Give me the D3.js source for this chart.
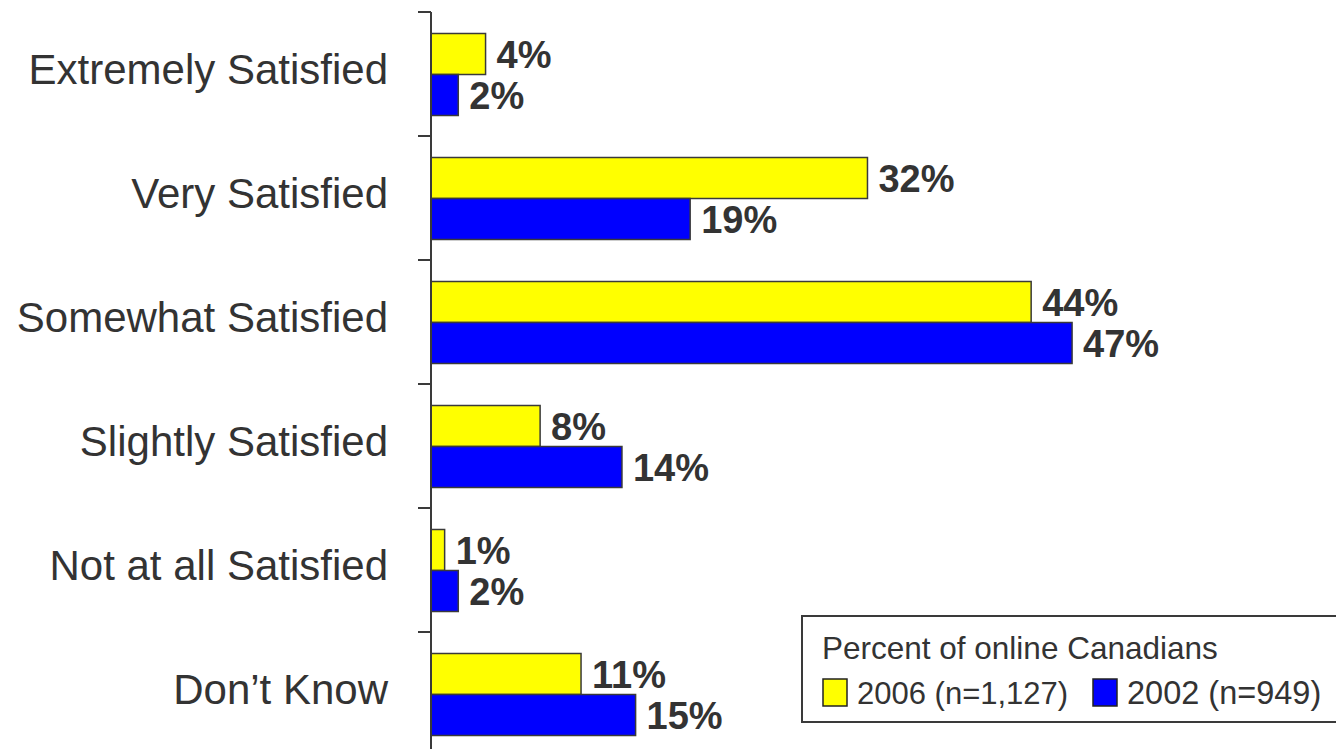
<!DOCTYPE html>
<html>
<head>
<meta charset="utf-8">
<script src="https://cdn.jsdelivr.net/npm/d3@7"></script>
<style>
  html, body { margin: 0; padding: 0; background: #ffffff; }
  svg { display: block; }
  text { font-family: Arial, "Liberation Sans", Helvetica, sans-serif; fill: #333333; }
</style>
</head>
<body>
<svg id="chart" width="1336" height="749"></svg>
<script>
const categories = ["Extremely Satisfied", "Very Satisfied", "Somewhat Satisfied", "Slightly Satisfied", "Not at all Satisfied", "Don\u2019t Know"];
const seriesNames = ["2006 (n=1,127)", "2002 (n=949)"];
const values2006 = [4, 32, 44, 8, 1, 11];
const values2002 = [2, 19, 47, 14, 2, 15];
const seriesColors = ["#FFFF00", "#0000FF"];
const legendTitle = "Percent of online Canadians";

const svg = d3.select("#chart");
const axisX = 431;

const x = d3.scaleLinear().domain([0, 47]).range([axisX, axisX + 47 * 13.64]);
const y = d3.scaleBand().domain(categories).range([12, 12 + 124 * 6]).padding(0);
const ySeries = d3.scaleBand().domain(seriesNames).range([21.5, 103.5]).padding(0);

const data = categories.map((c, i) => ({ cat: c, vals: [values2006[i], values2002[i]] }));

// bars
const groups = svg.selectAll("g.cat").data(data).enter().append("g").attr("class", "cat")
  .attr("transform", d => `translate(0,${y(d.cat)})`);

groups.selectAll("rect").data(d => d.vals.map((v, j) => ({ v, s: seriesNames[j], j })))
  .enter().append("rect")
  .attr("x", x(0))
  .attr("y", d => ySeries(d.s))
  .attr("width", d => x(d.v) - x(0))
  .attr("height", ySeries.bandwidth())
  .attr("fill", d => seriesColors[d.j])
  .attr("stroke", "#3a3a3a")
  .attr("stroke-width", 1.5);

groups.selectAll("text.val").data(d => d.vals.map((v, j) => ({ v, s: seriesNames[j], j })))
  .enter().append("text").attr("class", "val")
  .attr("x", d => x(d.v) + 11)
  .attr("y", d => ySeries(d.s) + ySeries.bandwidth() / 2)
  .attr("dy", "0.36em")
  .style("font-size", "38px")
  .style("font-weight", "bold")
  .text(d => d.v + "%");

// axis line and ticks (ticks at band boundaries)
svg.append("line")
  .attr("x1", axisX).attr("x2", axisX)
  .attr("y1", y.range()[0]).attr("y2", y.range()[1])
  .attr("stroke", "#3a3a3a").attr("stroke-width", 2);

const tickYs = categories.map(c => y(c)).concat([y.range()[1]]);
svg.selectAll("line.tick").data(tickYs).enter().append("line").attr("class", "tick")
  .attr("x1", axisX - 13).attr("x2", axisX)
  .attr("y1", d => d).attr("y2", d => d)
  .attr("stroke", "#3a3a3a").attr("stroke-width", 2);

// category labels
svg.selectAll("text.cat").data(categories).enter().append("text").attr("class", "cat")
  .attr("x", 388)
  .attr("y", d => y(d) + y.bandwidth() / 2 + 10)
  .attr("text-anchor", "end")
  .style("font-size", "42px")
  .text(d => d);

// legend
const lg = svg.append("g").attr("transform", "translate(802,616)");
lg.append("rect").attr("x", 0).attr("y", 0).attr("width", 560).attr("height", 106)
  .attr("fill", "#ffffff").attr("stroke", "#3a3a3a").attr("stroke-width", 2);
lg.append("text").attr("x", 20).attr("y", 43).style("font-size", "31.5px").text(legendTitle);
const swX = [21, 291];
const txtSize = ["31px", "32.5px"];
seriesNames.forEach((s, j) => {
  lg.append("rect").attr("x", swX[j]).attr("y", 63).attr("width", 24).attr("height", 27)
    .attr("fill", seriesColors[j]).attr("stroke", "#222").attr("stroke-width", 1.5);
  lg.append("text").attr("x", swX[j] + 34).attr("y", 88).style("font-size", txtSize[j]).text(s);
});
</script>
</body>
</html>
